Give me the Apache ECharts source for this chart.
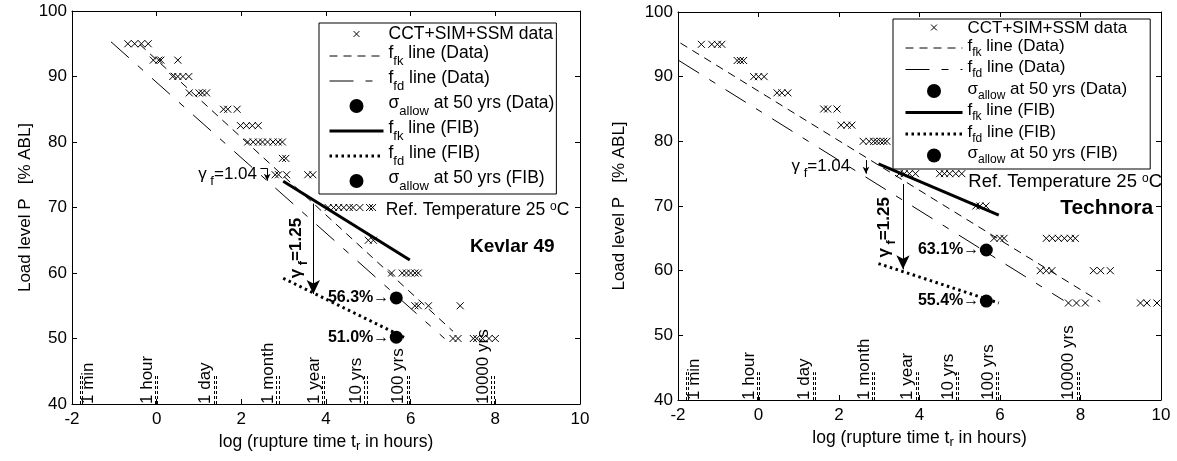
<!DOCTYPE html>
<html><head><meta charset="utf-8">
<script src="https://cdn.jsdelivr.net/npm/echarts@6/dist/echarts.min.js"></script>
<style>html,body{margin:0;padding:0;background:#fff}#c{width:1177px;height:461px}</style>
</head><body><div id="c"></div>
<script>
const FONT = '"Liberation Sans", Arial, Helvetica, sans-serif';

// ---- axes ----
const xAxisMin = -2, xAxisMax = 10, xAxisInterval = 2;
const yAxisMin = 40, yAxisMax = 100, yAxisInterval = 10;

// ---- legend entries ----
const legendNames = ['CCT+SIM+SSM data', 'ffk line (Data)', 'ffd line (Data)', 'sallow at 50 yrs (Data)', 'ffk line (FIB)', 'ffd line (FIB)', 'sallow at 50 yrs (FIB)'];

// ---- time markers on the log(t) axis ----
const timeMarkNames = ['1 min', '1 hour', '1 day', '1 month', '1 year', '10 yrs', '100 yrs', '10000 yrs'];
const timeMarkLogT = [-1.78, 0, 1.38, 2.86, 3.94, 4.94, 5.94, 7.94];

// ---- Kevlar 49 ----
const kevlarLevels = [95, 92.5, 90, 87.5, 85, 82.5, 80, 77.5, 75, 70, 65, 60, 55, 50];
const kevlarLogT = [
  [-0.68, -0.52, -0.36, -0.2],
  [-0.08, 0.05, 0.1, 0.5],
  [0.38, 0.5, 0.62, 0.76],
  [0.77, 1.0, 1.08, 1.18],
  [1.58, 1.68, 1.9],
  [1.98, 2.12, 2.26, 2.4],
  [2.15, 2.28, 2.4, 2.5, 2.62, 2.75, 2.87, 2.97],
  [2.97, 3.05],
  [2.8, 2.88, 3.07, 3.57, 3.69],
  [4.05, 4.18, 4.3, 4.42, 4.55, 4.64, 4.8, 5.03, 5.1],
  [5.0, 5.12],
  [5.55, 5.8, 5.9, 6.0, 6.1, 6.18],
  [6.1, 6.18, 6.42, 7.17],
  [7.0, 7.12, 7.48, 7.56, 7.7, 7.85, 8.0]
];
const kevlarFfkData = [[-0.4, 94.9], [7.0, 51.1]];
const kevlarFfdData = [[-1.08, 95.3], [6.8, 50.0]];
const kevlarFfkFib = [[2.99, 74.0], [5.98, 62.0]];
const kevlarFfdFib = [[2.99, 59.2], [5.9, 50.0]];
const kevlarAllowData = [5.66, 56.2];
const kevlarAllowFib = [5.66, 50.2];
const kevlarAllowText = ['56.3%', '51.0%'];

// ---- Technora ----
const technoraLevels = [95, 92.5, 90, 87.5, 85, 82.5, 80, 75, 70, 65, 60, 55];
const technoraLogT = [
  [-1.42, -1.16, -1.02, -0.91],
  [-0.53, -0.45, -0.37],
  [-0.12, 0.0, 0.14],
  [0.46, 0.58, 0.73],
  [1.62, 1.72, 1.95],
  [2.05, 2.2, 2.32],
  [2.6, 2.75, 2.86, 2.94, 3.03, 3.11, 3.19],
  [3.5, 3.62, 3.75, 3.9, 4.5, 4.62, 4.75, 4.9, 5.05],
  [5.4, 5.5, 5.65],
  [5.85, 6.0, 6.1, 7.15, 7.3, 7.45, 7.6, 7.75, 7.87],
  [7.0, 7.15, 7.29, 8.32, 8.5, 8.74],
  [7.7, 7.9, 8.12, 9.49, 9.65, 9.9]
];
const technoraFfkData = [[-1.94, 95.2], [8.49, 55.2]];
const technoraFfdData = [[-1.98, 92.5], [7.58, 55.4]];
const technoraFfkFib = [[2.98, 76.5], [5.97, 68.6]];
const technoraFfdFib = [[2.98, 61.1], [5.97, 55.0]];
const technoraAllowData = [5.66, 63.2];
const technoraAllowFib = [5.66, 55.3];
const technoraAllowText = ['63.1%', '55.4%'];

const gammaData = '1.04', gammaFib = '1.25';

// ---------------------------------------------------------------
function richSet(fs, H, d, subFs, weight) {
  const base = {fontFamily: FONT, fontWeight: weight || 'normal', color: '#000'};
  return {
    n: Object.assign({}, base, {fontSize: fs, lineHeight: H, verticalAlign: 'top'}),
    c: Object.assign({}, base, {fontSize: fs, lineHeight: H - 6, verticalAlign: 'top'}),
    s: Object.assign({}, base, {fontSize: subFs, lineHeight: Math.max(1, H - 2 * d), verticalAlign: 'bottom'}),
    p: Object.assign({}, base, {fontSize: subFs, lineHeight: Math.max(1, H - 2 * d), verticalAlign: 'top'})
  };
}
const legendText = {
  'CCT+SIM+SSM data': '{c|CCT+SIM+SSM data}',
  'ffk line (Data)': '{n|f}{s|fk}{n| line (Data)}',
  'ffd line (Data)': '{n|f}{s|fd}{n| line (Data)}',
  'sallow at 50 yrs (Data)': '{n|σ}{s|allow}{n| at 50 yrs (Data)}',
  'ffk line (FIB)': '{n|f}{s|fk}{n| line (FIB)}',
  'ffd line (FIB)': '{n|f}{s|fd}{n| line (FIB)}',
  'sallow at 50 yrs (FIB)': '{n|σ}{s|allow}{n| at 50 yrs (FIB)}'
};

const grids = [
  {left: 72, top: 11, width: 508, height: 393},
  {left: 678, top: 12, width: 483, height: 388}
];
const yNameGap = [38, 50];
const xNameGap = [24, 27];

const xAxes = [], yAxes = [];
grids.forEach((g, gi) => {
  const axLine = {onZero: false, lineStyle: {color: '#000', width: 1}};
  const tick = {inside: true, length: 5, lineStyle: {color: '#000', width: 1}};
  xAxes.push({
    type: 'value', gridIndex: gi, position: 'bottom', min: xAxisMin, max: xAxisMax, interval: xAxisInterval,
    axisLine: axLine, axisTick: tick, splitLine: {show: false},
    axisLabel: {color: '#000', fontSize: 17, fontFamily: FONT, margin: 7},
    name: '{n|log (rupture time t}{s|r}{n| in hours)}', nameLocation: 'middle', nameGap: xNameGap[gi],
    nameTextStyle: {rich: richSet(17.5, 20, 7, 13)}
  });
  xAxes.push({
    type: 'value', gridIndex: gi, position: 'top', min: xAxisMin, max: xAxisMax, interval: xAxisInterval,
    axisLine: axLine, axisTick: tick, splitLine: {show: false}, axisLabel: {show: false}
  });
  yAxes.push({
    type: 'value', gridIndex: gi, position: 'left', min: yAxisMin, max: yAxisMax, interval: yAxisInterval,
    axisLine: axLine, axisTick: tick, splitLine: {show: false},
    axisLabel: {color: '#000', fontSize: 17, fontFamily: FONT, margin: 5},
    name: 'Load level P   [% ABL]', nameLocation: 'middle', nameGap: yNameGap[gi],
    nameTextStyle: {color: '#000', fontSize: 17, fontFamily: FONT}
  });
  yAxes.push({
    type: 'value', gridIndex: gi, position: 'right', min: yAxisMin, max: yAxisMax, interval: yAxisInterval,
    axisLine: axLine, axisTick: tick, splitLine: {show: false}, axisLabel: {show: false}
  });
});

const XPATH = 'path://M0,0L10,10M10,0L0,10';
const XLEGEND = 'path://M-7,-7M17,17M0,0L10,10M10,0L0,10';

function plotSeries(gi, P) {
  const ax = {xAxisIndex: gi * 2, yAxisIndex: gi * 2, silent: true, animation: false};
  const pts = [];
  P.levels.forEach((lv, i) => P.logT[i].forEach(t => pts.push([t, lv])));
  const S = [];
  S.push(Object.assign({type: 'scatter', name: legendNames[0], data: pts, symbol: XPATH, symbolSize: 7,
    itemStyle: {color: 'rgba(0,0,0,0)', borderColor: '#000', borderWidth: 1, opacity: 1}, z: 3}, ax));
  const line = (name, data, ls) => Object.assign({type: 'line', name, data, symbol: 'none', showSymbol: false,
    lineStyle: Object.assign({color: '#000'}, ls), itemStyle: {color: '#000'}, z: 2}, ax);
  S.push(line(legendNames[1], P.ffkData, {width: 1, type: [8, 6]}));
  S.push(line(legendNames[2], P.ffdData, {width: 1, type: [24, 12, 7, 12]}));
  S.push(Object.assign({type: 'scatter', name: legendNames[3], data: [P.allowData], symbol: 'circle', symbolSize: 13,
    itemStyle: {color: '#000', opacity: 1}, z: 4}, ax));
  S.push(line(legendNames[4], P.ffkFib, {width: 3, type: 'solid'}));
  S.push(line(legendNames[5], P.ffdFib, {width: 3, type: [2.5, 3.5]}));
  S.push(Object.assign({type: 'scatter', name: legendNames[6], data: [P.allowFib], symbol: 'circle', symbolSize: 13,
    itemStyle: {color: '#000', opacity: 1}, z: 4}, ax));

  // time markers: double dashed ticks + rotated labels
  const mlData = [];
  timeMarkLogT.forEach(x => {
    [-0.025, 0.025].forEach(dx => mlData.push([{coord: [x + dx, 40]}, {coord: [x + dx, 44.3]}]));
  });
  S.push(Object.assign({type: 'line', name: 'timeMarks', data: [], markLine: {silent: true, animation: false,
    symbol: ['none', 'none'], label: {show: false}, lineStyle: {color: '#000', width: 1, type: [3, 2]}, data: mlData}}, ax));

  // arrows
  const arrows = [[{coord: P.arrowFib[0]}, {coord: P.arrowFib[1], symbol: 'arrow', symbolSize: [10, 14]}]];
  P.arrowData.forEach((seg, i) => {
    const last = i === P.arrowData.length - 1;
    arrows.push([{coord: seg[0]}, last ? {coord: seg[1], symbol: 'arrow', symbolSize: [5, 7]} : {coord: seg[1]}]);
  });
  S.push(Object.assign({type: 'line', name: 'arrows', data: [], markLine: {silent: true, animation: false,
    symbol: ['none', 'none'], label: {show: false}, lineStyle: {color: '#000', width: 1, type: 'solid'}, data: arrows}}, ax));

  // text annotations
  const lab = (value, label) => ({value, label: Object.assign({show: true, color: '#000', fontFamily: FONT}, label)});
  const notes = [];
  timeMarkLogT.forEach((x, i) => notes.push(lab([x, 40], {
    formatter: timeMarkNames[i], fontSize: 17, position: [0, 0], rotate: 90, align: 'left',
    verticalAlign: i === 0 ? 'top' : 'bottom', offset: [0, -1]
  })));
  notes.push(lab(P.gdPos, {formatter: '{n|γ}{s| f}{n|=' + gammaData + '}', position: [0, 0], align: 'right', verticalAlign: 'middle',
    rich: richSet(17, 22, 6, 13)}));
  notes.push(lab(P.gfPos, {formatter: '{n|γ}{s| f}{n|=' + gammaFib + '}', position: [0, 0], align: 'center', verticalAlign: 'middle',
    rotate: 90, rich: richSet(17, 22, 6, 13, 'bold')}));
  notes.push(lab(P.allowData, {formatter: P.allowText[0] + '→', position: 'left', distance: 7, fontSize: 16, fontWeight: 'bold'}));
  notes.push(lab(P.allowFib, {formatter: P.allowText[1] + '→', position: 'left', distance: 7, fontSize: 16, fontWeight: 'bold'}));
  notes.push(lab(P.refPos, {formatter: '{n|Ref. Temperature 25 }{p|o}{n|C}', position: [0, 0], align: 'center', verticalAlign: 'middle',
    rich: richSet(P.refSize, 22, 5, 12)}));
  notes.push(lab(P.titlePos, {formatter: P.title, position: [0, 0], align: 'center', verticalAlign: 'middle',
    fontSize: P.titleSize, fontWeight: 'bold'}));
  S.push(Object.assign({type: 'scatter', name: 'notes', data: notes, symbolSize: 0.01,
    itemStyle: {color: 'rgba(0,0,0,0)', opacity: 1}, z: 6}, ax));
  return S;
}

const kevlar = {
  levels: kevlarLevels, logT: kevlarLogT, ffkData: kevlarFfkData, ffdData: kevlarFfdData,
  ffkFib: kevlarFfkFib, ffdFib: kevlarFfdFib, allowData: kevlarAllowData, allowFib: kevlarAllowFib,
  allowText: kevlarAllowText,
  arrowFib: [[3.7, 70.6], [3.7, 56.8]],
  arrowData: [[[2.45, 76.0], [2.61, 76.0]], [[2.61, 76.0], [2.61, 74.1]]],
  gdPos: [2.37, 74.7], gfPos: [3.36, 63.8], refPos: [7.58, 69.3], titlePos: [8.4, 64.0],
  title: 'Kevlar 49', titleSize: 19, refSize: 17.5
};
const technora = {
  levels: technoraLevels, logT: technoraLogT, ffkData: technoraFfkData, ffdData: technoraFfdData,
  ffkFib: technoraFfkFib, ffdFib: technoraFfdFib, allowData: technoraAllowData, allowFib: technoraAllowFib,
  allowText: technoraAllowText,
  arrowFib: [[3.59, 73.4], [3.59, 60.2]],
  arrowData: [[[2.67, 77.1], [2.67, 75.0]]],
  gdPos: [2.28, 75.7], gfPos: [3.18, 66.7], refPos: [7.62, 73.5], titlePos: [8.65, 69.7],
  title: 'Technora', titleSize: 21, refSize: 18.5
};

function legendFor(pos, fs, H, d, subFs, gap, pad, iw) {
  return {
    data: legendNames.map((n, i) => {
      if (i === 0) return {name: n, icon: XLEGEND};
      if (i === 3 || i === 6) return {name: n};
      return {name: n, itemStyle: {opacity: 0}};
    }),
    orient: 'vertical', left: pos[0], top: pos[1], selectedMode: false,
    backgroundColor: '#fff', borderColor: '#000', borderWidth: 1, borderRadius: 0,
    padding: pad, itemGap: gap, itemWidth: iw, itemHeight: 14,
    lineStyle: {width: 'inherit'}, itemStyle: {borderWidth: 'inherit', opacity: 1},
    formatter: name => legendText[name],
    textStyle: {color: '#000', fontFamily: FONT, fontSize: fs, rich: richSet(fs, H, d, subFs)},
    z: 10
  };
}

const option = {
  animation: false,
  backgroundColor: '#fff',
  grid: grids,
  xAxis: xAxes,
  yAxis: yAxes,
  legend: [
    legendFor([319, 23], 17.5, 24, 9, 13, 1, [2, 2, 1, 9], 54),
    legendFor([893, 19], 17, 21, 9, 12, 0.5, [1, 23, 3, 11], 57)
  ],
  series: plotSeries(0, kevlar).concat(plotSeries(1, technora))
};
const chart = echarts.init(document.getElementById('c'));
chart.setOption(option);
</script>
</body></html>
